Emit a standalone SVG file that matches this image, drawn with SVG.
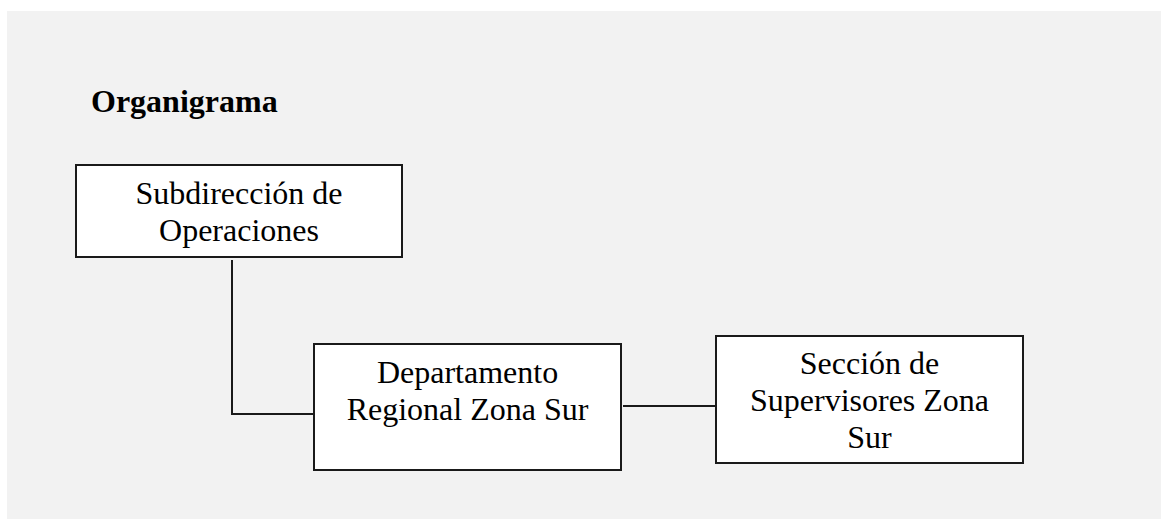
<svg xmlns="http://www.w3.org/2000/svg" width="1161" height="519" viewBox="0 0 1161 519">
  <style>
    .box { fill: #ffffff; stroke: #1a1a1a; stroke-width: 2; }
    .lbl { font-family: "Liberation Serif", "Times New Roman", serif; font-size: 32px; fill: #000; text-anchor: middle; }
    .title { font-family: "Liberation Serif", "Times New Roman", serif; font-size: 32px; font-weight: bold; fill: #000; }
    .conn { fill: none; stroke: #1a1a1a; stroke-width: 2; }
  </style>
  <!-- page background -->
  <rect x="7" y="11" width="1154" height="508" fill="#f2f2f2"/>
  <text class="title" x="91" y="112">Organigrama</text>

  <g id="connectors">
    <polyline class="conn" points="232,260 232,414 313,414"/>
    <line class="conn" x1="623" y1="406" x2="715" y2="406"/>
  </g>

  <g id="subdireccion">
    <rect class="box" x="76" y="165" width="326" height="92"/>
    <text class="lbl" x="239" y="204">Subdirección de</text>
    <text class="lbl" x="239" y="241">Operaciones</text>
  </g>

  <g id="departamento">
    <rect class="box" x="314" y="344" width="307" height="126"/>
    <text class="lbl" x="467.5" y="383">Departamento</text>
    <text class="lbl" x="467.5" y="420">Regional Zona Sur</text>
  </g>

  <g id="seccion">
    <rect class="box" x="716" y="336" width="307" height="127"/>
    <text class="lbl" x="869.5" y="374">Sección de</text>
    <text class="lbl" x="869.5" y="411">Supervisores Zona</text>
    <text class="lbl" x="869.5" y="448">Sur</text>
  </g>
</svg>
